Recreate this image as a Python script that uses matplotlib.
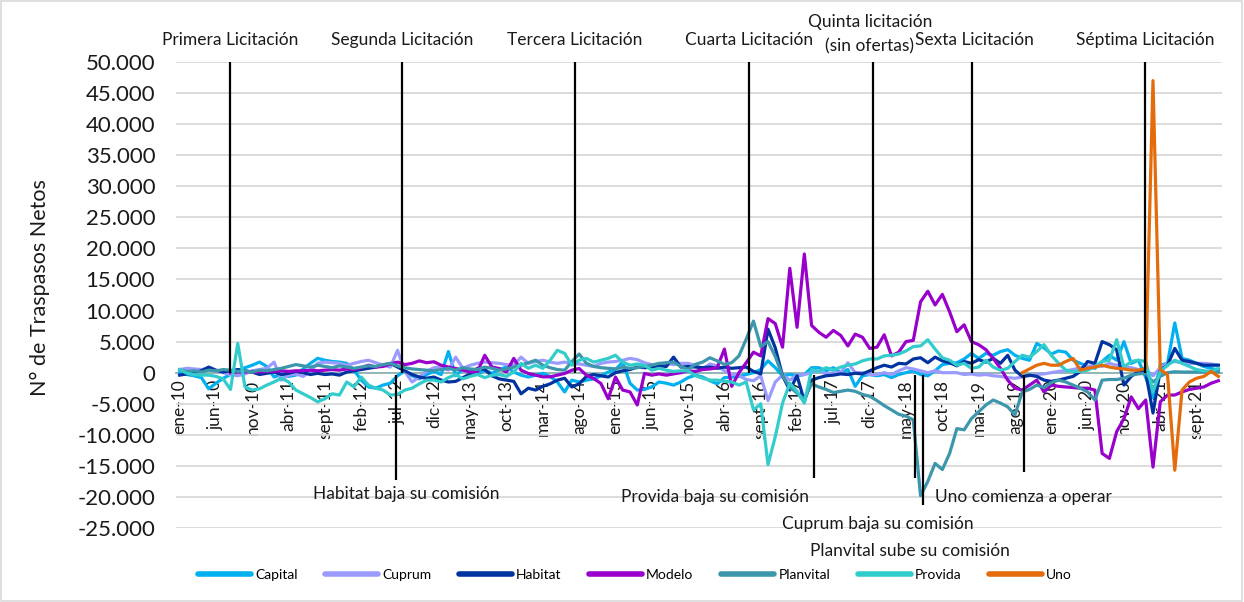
import numpy as np
import matplotlib
matplotlib.use('Agg')
import matplotlib.pyplot as plt
from matplotlib.ticker import FuncFormatter, FixedLocator
from matplotlib.transforms import blended_transform_factory
from matplotlib.patches import Rectangle
from matplotlib.lines import Line2D

plt.rcParams['font.family'] = ['Lato', 'DejaVu Sans']

# meses ene-10 ... dic-21 (una fila por año en cada serie)
meses = ['ene', 'feb', 'mar', 'abr', 'may', 'jun', 'jul', 'ago', 'sept', 'oct', 'nov', 'dic']
anios = list(range(2010, 2022))
fechas = ['%s-%02d' % (m, a % 100) for a in anios for m in meses]

nan = np.nan
capital = [
    -100, -300, -500, -800, -2600, -1700, -900, -300, 300, 800, 1200, 1700,
    1000, -700, -300, -600, -400, 600, 1500, 2300, 2000, 1800, 1700, 1500,
    400, -1200, -2300, -2500, -2000, -1700, -500, 300, -500, -1000, -300, 200,
    -300, 3400, -500, 600, 300, -200, 400, -100, 500, 900, 100, -400,
    -700, -400, -100, -600, -1500, -3100, -1200, -1500, -1200, -1000, -500, 100,
    500, 1700, -1700, -2800, -2700, -2300, -1500, -1700, -2000, -1500, -800, -400,
    -700, -1300, -1800, -800, -700, -600, -300, 0, 500, 1900, 800, -500,
    -300, -500, -300, 800, 800, 300, 800, 0, 500, -2200, -500, -300,
    -500, -300, -800, -300, 0, 300, -300, -500, 300, 1300, 1500, 1600,
    2200, 3100, 2300, 3100, 2800, 3400, 3700, 2800, 2300, 2000, 4700, 4000,
    3000, 3500, 3300, 2000, 1500, 1000, 700, 1800, 2800, 2000, 5000, 1500,
    2000, -800, -4000, 1200, 1500, 8000, 2300, 2000, 1500, 1000, 700, 400,
]
cuprum = [
    500, 700, 600, 500, 700, 300, 0, -300, -500, -200, 300, 500,
    700, 1700, -1200, -400, -200, -600, 200, 1500, 1700, 1600, 1500, 1200,
    1500, 1800, 2000, 1600, 1200, 900, 3600, 200, -1500, -700, 200, 800,
    900, 400, 2500, 700, 1200, 1500, 1700, 1600, 1500, 1300, 1200, 2500,
    1500, 1800, 2000, 1700, 1500, 1700, 1500, 1400, 1200, 1000, 1500, 1700,
    1800, 2000, 2300, 2100, 1600, 1300, 1300, 1500, 1300, 1500, 1500, 1200,
    600, 1400, 1100, 300, -200, -500, -1100, -1300, -500, -4500, -1500, -400,
    -1200, -400, -300, 0, 300, -200, 0, 0, 1600, 0, 0, -300,
    -300, 0, -300, 300, 800, 600, 300, 0, 300, 0, 0, 0,
    -300, -200, -400, -300, -500, -600, -800, -900, -700, -500, -300, -200,
    0, 200, 300, 500, 800, 1000, 1200, 1000, 1500, 1200, 1000, 800,
    500, 500, -500, 800, 1500, 1800, 1600, 1500, 1500, 1500, 1400, 1200,
]
habitat = [
    -400, -200, 0, 300, 900, 400, 100, 300, 500, 300, 100, -300,
    -100, 100, -300, -100, 200, 0, -300, -100, -300, -200, -400, 100,
    300, 500, 700, 900, 1200, 1500, 900, 300, -300, -700, -900, -700,
    -1200, -1500, -1400, -800, -200, 700, 500, -500, -1000, -1200, -1400, -3400,
    -2500, -2800, -2200, -1800, -1200, -900, -2300, -1800, -600, -300, -500, -700,
    0, 300, 500, 900, 800, 900, 1100, 1000, 2500, 900, 1000, 900,
    800, 900, 700, 900, 700, 800, 900, 200, -200, 7000, 4000, -500,
    -2800, -500, -4600, -1200, -800, -500, -400, -200, -300, -100, -200, 300,
    800, 1200, 900, 1500, 1400, 2200, 2400, 1600, 2500, 1900, 1600, 1100,
    1800, 1500, 2100, 1700, 2300, 1500, 2800, 400, -600, -400, -600, -1200,
    -1400, -1200, -900, -600, 200, 1800, 1500, 5000, 4500, 3700, -2000, -600,
    200, 100, -6500, 400, 1200, 3900, 2000, 1800, 1500, 1200, 1200, 1200,
]
modelo = [
    nan, nan, nan, nan, nan, nan, nan, 0, 100, 100, 200, 100,
    200, 200, 300, 200, 300, 300, 400, 300, 400, 500, 400, 600,
    500, 800, 1200, 900, 1000, 1400, 1700, 1300, 1500, 1900, 1600, 1750,
    1200, 900, 670, 400, 130, 130, 2800, 900, 670, 130, 2300, 400,
    -130, -400, -670, -670, -400, -130, 400, 670, -400, -940, -1750, -4200,
    -700, -2800, -3100, -5200, -130, -400, -200, -400, -200, 0, 300, 200,
    500, 600, 800, 3800, -2200, 0, 1600, 3300, 2700, 8700, 7900, 4100,
    16800, 7300, 19100, 7600, 6500, 5700, 6800, 6000, 4300, 6200, 5700, 3900,
    4100, 6100, 2700, 3300, 5000, 5200, 11400, 13100, 10900, 12600, 9800, 6600,
    7700, 5000, 4500, 3700, 2300, 700, -1200, -2500, -2800, -2000, -1200, -3100,
    -2000, -2200, -2300, -2400, -2500, -2500, -2800, -13000, -13800, -9500, -7400, -3900,
    -5800, -4400, -15200, -4700, -3600, -3600, -3100, -2700, -2500, -2300, -1700, -1300,
]
planvital = [
    400, 200, 300, 100, 400, 300, 500, 400, 200, 300, 100, 400,
    300, 500, 700, 1000, 1300, 1100, 900, 1200, 1000, 800, 1100, 900,
    700, 900, 1100, 1000, 1300, 1500, 1100, 800, 600, 500, 400, 300,
    500, 700, 400, 800, 600, 500, 900, 700, 400, 600, 900, 1200,
    1600, 2000, 1200, 800, 500, 400, 1800, 3000, 1500, 1000, 800, 700,
    600, 900, 700, 800, 1000, 1200, 1500, 1600, 1700, 1000, 540, 1350,
    1700, 2400, 1900, 1350, 1600, 2700, 5400, 8300, 4200, 5000, 2600, -500,
    -2300, -3300, -4200, -1800, -2300, -2700, -3200, -3000, -2800, -3000, -3500, -3800,
    -4500, -5300, -6000, -6700, -7000, -7600, -19800, -17500, -14600, -15600, -13000, -9000,
    -9200, -7400, -6300, -5200, -4400, -4900, -5500, -6800, -3100, -2700, -2000, -2400,
    -1600, -1200, -1500, -2000, -2500, -3100, -4400, -1200, -1100, -1100, -900, -400,
    -200, -100, -1500, -600, 0, 150, 100, 100, 100, 100, 100, 100,
]
provida = [
    500, -100, -300, -400, -400, -600, -1000, -2700, 4700, -2300, -2800, -2600,
    -2000, -1500, -900, -1500, -2800, -3400, -4000, -4700, -4200, -3400, -3600, -1500,
    -2300, -700, -2000, -2500, -2800, -3600, -3500, -2800, -2500, -1800, -1200, -1200,
    -1500, -800, -300, -1000, -600, -300, -800, -400, -300, -600, 100, 1500,
    700, 1200, 700, 2000, 3600, 3100, 1200, 2000, 2300, 1700, 2000, 2300,
    2800, 1700, 1200, 1400, 1200, 400, 700, 400, 200, 300, 300, -500,
    -900, -1200, -1200, -1400, -1500, -2000, -1500, -6000, -5000, -14800, -10300, -4900,
    -1700, -3000, -4900, 500, 200, 800, 400, 900, 1200, 1400, 1900, 2200,
    2200, 2700, 2800, 3000, 3500, 4200, 4300, 5300, 3800, 2400, 2000, 1200,
    1500, 700, 900, 2000, 900, 400, 700, 1800, 2800, 2500, 3400, 4500,
    2800, 1500, 400, 200, 200, 400, 1000, 1800, 2000, 5300, 900, 1800,
    2000, 1800, -3100, 200, 1200, 2000, 1500, 1000, 500, 300, 200, 700,
]
uno = [nan] * 116 + [
    0, 600, 1200, 1500, 1200, 1200, 1800, 2300, 400, 700, 900, 1200,
    900, 700, 600, 400, 400, 700, 47000, 500, -300, -15700, -2800, -1500,
    -900, -600, 200, -600,
]

series = [
    ('Capital', capital, '#00B0F0'),
    ('Cuprum', cuprum, '#9B9BFF'),
    ('Habitat', habitat, '#0033A0'),
    ('Modelo', modelo, '#9900CC'),
    ('Planvital', planvital, '#3C96AC'),
    ('Provida', provida, '#33CCCC'),
    ('Uno', uno, '#E46C0A'),
]

# licitaciones (linea superior) y eventos (linea inferior), en meses desde ene-10
licitaciones = ['Primera Licitación', 'Segunda Licitación', 'Tercera Licitación',
                'Cuarta Licitación', 'Quinta licitación\n(sin ofertas)',
                'Sexta Licitación', 'Séptima Licitación']
licitacion_mes = [6.9, 30.6, 54.4, 78.4, 95.4, 109.1, 132.9]
licitacion_txt_x = [6.9, 30.6, 54.4, 78.4, 95.0, 109.4, 132.9]
licitacion_txt_y = [40, 40, 40, 40, 22, 40, 40]

eventos = ['Habitat baja su comisión', 'Provida baja su comisión',
           'Cuprum baja su comisión', 'Planvital sube su comisión',
           'Uno comienza a operar']
evento_mes = [29.8, 87.3, 101.2, 102.3, 116.2]
evento_fin = [-17300, -17000, -17000, -21300, -16000]
evento_txt_x = [31.2, 73.7, 96.1, 100.6, 116.2]
evento_txt_y = [494, 497, 524, 551, 497]

W, H = 1244, 602
fig = plt.figure(figsize=(W / 100, H / 100), dpi=100)
ax = fig.add_axes([176 / W, 1 - 528 / H, (1222 - 176) / W, (528 - 62) / H])

x = np.arange(len(fechas))
for nombre, vals, color in series:
    ax.plot(x, vals, color=color, lw=2.3, label=nombre, zorder=3)

ax.vlines(licitacion_mes, 0, 50000, color='black', lw=1.6, zorder=4)
ax.vlines(evento_mes, -300, evento_fin, color='black', lw=1.6, zorder=4)

ax.set_xlim(-0.5, len(fechas) - 0.5)
ax.set_ylim(-25000, 50000)
ax.yaxis.set_major_locator(FixedLocator(np.arange(-25000, 50001, 5000)))
ax.yaxis.set_major_formatter(FuncFormatter(lambda v, p: f'{int(v):,}'.replace(',', '.')))
ax.yaxis.grid(True, color='#D9D9D9', lw=1.3)
ax.set_axisbelow(True)

# eje x cruzando en 0 (antes de fijar las etiquetas, porque reinicia los ticks)
ax.spines['bottom'].set_position(('data', 0))
ax.spines['bottom'].set_color('#8DB4B4')
ax.spines['bottom'].set_linewidth(1.3)
for s in ['top', 'right', 'left']:
    ax.spines[s].set_visible(False)
ax.xaxis.set_major_locator(FixedLocator(x[::5]))
ax.set_xticklabels(fechas[::5])
ax.tick_params(axis='x', length=0, pad=5, labelrotation=90, labelsize=12.5,
               labelcolor='#1A1A1A')
ax.tick_params(axis='y', length=0, pad=15, labelsize=16, labelcolor='#1A1A1A')

tr = blended_transform_factory(ax.transData, fig.transFigure)
for txt, m, yy in zip(licitaciones, licitacion_txt_x, licitacion_txt_y):
    # cada renglón por separado (24 px entre renglones)
    for k, renglon in enumerate(txt.split('\n')):
        ax.text(m, 1 - (yy + 24 * k) / H, renglon, transform=tr, ha='center',
                va='center', fontsize=12.5, color='#1A1A1A')
for txt, m, yy in zip(eventos, evento_txt_x, evento_txt_y):
    ax.text(m, 1 - yy / H, txt, transform=tr, ha='center', va='center',
            fontsize=12.5, color='#1A1A1A')

fig.text(40 / W, 1 - 288 / H, 'N° de Traspasos Netos', rotation=90,
         ha='center', va='center', fontsize=15.5, color='#1A1A1A')

handles = [Line2D([], [], color=c, lw=4, solid_capstyle='round') for _, _, c in series]
fig.legend(handles, [n for n, _, _ in series], loc='center',
           bbox_to_anchor=(635 / W, 1 - 575 / H), ncol=7, frameon=False,
           fontsize=10, handlelength=3.8, handletextpad=0.3, columnspacing=2.0)

fig.patches.append(Rectangle((0.001, 0.002), 0.997, 0.996, transform=fig.transFigure,
                             fill=False, edgecolor='#D9D9D9', lw=1.2))

fig.savefig('out.png', dpi=100)
